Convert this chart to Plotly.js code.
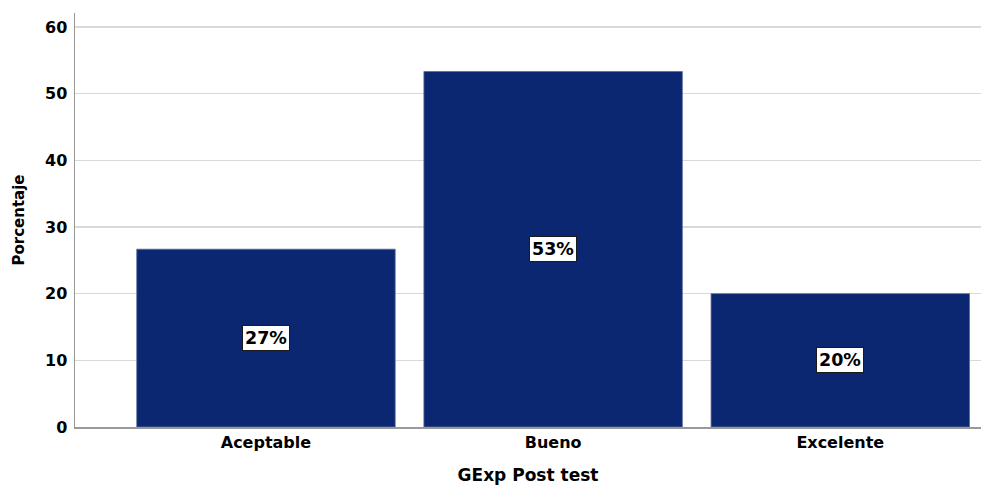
<!DOCTYPE html>
<html><head><meta charset="utf-8">
<script src="https://cdn.plot.ly/plotly-3.0.1.min.js"></script>
<style>body{margin:0;padding:0;background:#fff}#chart{width:981px;height:485px}</style>
</head><body><div id="chart"></div>
<script>
const categories = ["Aceptable", "Bueno", "Excelente"];
const percentages = [26.67, 53.33, 20.0];
const labels = ["27%", "53%", "20%"];
const yTicks = [0, 10, 20, 30, 40, 50, 60];

const font = {family: "DejaVu Sans, Arial, sans-serif", color: "#000"};

const trace = {
  type: "bar",
  x: [0, 1, 2],
  y: percentages,
  width: 0.9,
  marker: {color: "#0b2772", line: {color: "#5a6a96", width: 0.8}},
  hoverinfo: "skip"
};

const annotations = percentages.map((v, i) => ({
  x: i, y: v / 2, xref: "x", yref: "y",
  text: "<b>" + labels[i] + "</b>",
  showarrow: false,
  bgcolor: "#ffffff", bordercolor: "#1a1a1a", borderwidth: 1, borderpad: 2,
  font: Object.assign({}, font, {size: 17.5})
}));

const layout = {
  width: 981, height: 485,
  margin: {l: 75, r: 0, t: 13, b: 58},
  paper_bgcolor: "#fff", plot_bgcolor: "#fff",
  showlegend: false,
  xaxis: {
    range: [-0.665, 2.49],
    tickvals: [0, 1, 2], ticktext: categories.map(c => "<b>" + c + "</b>"),
    tickfont: Object.assign({}, font, {size: 16}),
    showgrid: false, zeroline: false,
    showline: true, linecolor: "#999", linewidth: 1.5,
    ticks: "",
    title: {text: "<b>GExp Post test</b>", font: Object.assign({}, font, {size: 17}), standoff: 18}
  },
  yaxis: {
    range: [0, 62.1],
    tickvals: yTicks, ticktext: yTicks.map(t => "<b>" + t + "</b>"),
    tickfont: Object.assign({}, font, {size: 16}),
    ticklabelstandoff: 3,
    showgrid: true, gridcolor: "#d9d9d9", gridwidth: 1.5,
    zeroline: false,
    showline: true, linecolor: "#999", linewidth: 1.5,
    ticks: "",
    title: {text: "<b>Porcentaje</b>", font: Object.assign({}, font, {size: 15}), standoff: 17}
  },
  annotations: annotations
};

Plotly.newPlot("chart", [trace], layout, {displayModeBar: false, staticPlot: true});
</script></body></html>
